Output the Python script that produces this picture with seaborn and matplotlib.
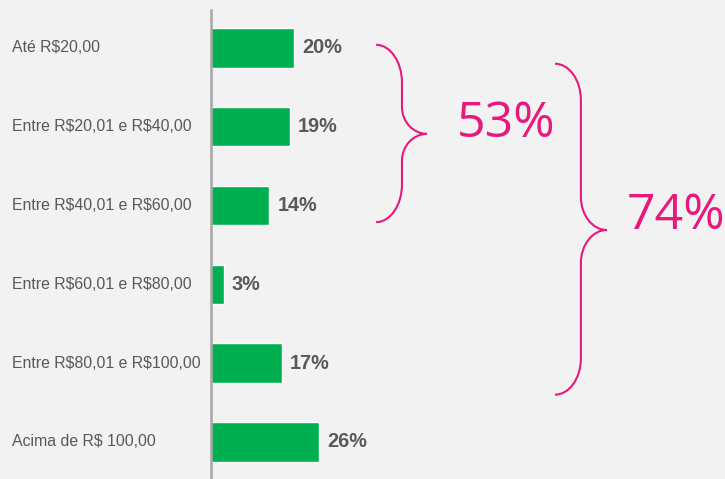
import numpy as np
import pandas as pd
import matplotlib
matplotlib.use('Agg')
import matplotlib.pyplot as plt
from matplotlib.path import Path
from matplotlib.patches import PathPatch
import seaborn as sns

# data
faixas = ['Até R$20,00', 'Entre R$20,01 e R$40,00', 'Entre R$40,01 e R$60,00',
          'Entre R$60,01 e R$80,00', 'Entre R$80,01 e R$100,00', 'Acima de R$ 100,00']
percentuais = [20, 19, 14, 3, 17, 26]
grupo_53 = ('53%', 0, 2)   # label, first and last category covered
grupo_74 = ('74%', 1, 4)

BG = '#f2f2f2'
GREEN = '#00b050'
PINK = '#e8197d'
GRAY = '#595959'

sns.set_theme(style='white')
plt.rcParams['font.family'] = ['Liberation Sans', 'DejaVu Sans']

df = pd.DataFrame({'faixa': faixas, 'pct': percentuais})

fig = plt.figure(figsize=(7.25, 4.79), dpi=100, facecolor=BG)
ax = fig.add_axes([211 / 725, 0, 514 / 725, 469 / 479])
ax.set_facecolor(BG)

sns.barplot(data=df, x='pct', y='faixa', orient='h', color=GREEN,
            width=0.5, saturation=1, ax=ax)

ax.set_xlim(0, 514 / 4.17)
ax.set_ylim(5.47, -0.482)
ax.set_xticks([])
ax.set_yticks([])
ax.set_xlabel('')
ax.set_ylabel('')
for s in ['top', 'right', 'bottom']:
    ax.spines[s].set_visible(False)
ax.spines['left'].set_color('#a6a6a6')
ax.spines['left'].set_linewidth(1.8)

# category labels and value labels
for i, (f, v) in enumerate(zip(faixas, percentuais)):
    ax.text(-199 / 514, i, f, transform=ax.get_yaxis_transform(),
            ha='left', va='center', fontsize=11.4, color=GRAY,
            parse_math=False)
    ax.text(v + 1.9, i, f'{v}%', ha='left', va='center', fontsize=14.3,
            fontweight='bold', color=GRAY)


def brace(ax, x0, xm, xt, y0, y1, yt, r1, r2, **kw):
    # curly brace opening to the right, tip at (xt, yt)
    k = 0.55
    verts = [
        (x0, y0),
        (x0 + k * (xm - x0), y0), (xm, y0 + (1 - k) * r1), (xm, y0 + r1),
        (xm, yt - r2),
        (xm, yt - r2 + k * r2), (xm + (1 - k) * (xt - xm), yt), (xt, yt),
        (xm + (1 - k) * (xt - xm), yt), (xm, yt + r2 - k * r2), (xm, yt + r2),
        (xm, y1 - r1),
        (xm, y1 - (1 - k) * r1), (x0 + k * (xm - x0), y1), (x0, y1),
    ]
    codes = [Path.MOVETO,
             Path.CURVE4, Path.CURVE4, Path.CURVE4,
             Path.LINETO,
             Path.CURVE4, Path.CURVE4, Path.CURVE4,
             Path.CURVE4, Path.CURVE4, Path.CURVE4,
             Path.LINETO,
             Path.CURVE4, Path.CURVE4, Path.CURVE4]
    ax.add_patch(PathPatch(Path(verts, codes), fill=False, clip_on=False, **kw))


# brace 53%
lbl, a, b = grupo_53
brace(ax, 39.6, 45.8, 51.8, a - 0.04, b + 0.21, 1.09, 0.48, 0.34,
      edgecolor=PINK, linewidth=1.5)
ax.text(70.7, 1.13, lbl, ha='center', va='baseline', fontsize=36,
        color=PINK, family=['Open Sans', 'DejaVu Sans'], clip_on=False)

# brace 74%
lbl, a, b = grupo_74
brace(ax, 82.5, 88.7, 94.9, a - 0.8, b + 0.4, 2.31, 0.46, 0.42,
      edgecolor=PINK, linewidth=1.5)
ax.text(111.5, 2.30, lbl, ha='center', va='baseline', fontsize=36,
        color=PINK, family=['Open Sans', 'DejaVu Sans'], clip_on=False)

fig.savefig('out.png', dpi=100, facecolor=BG)
